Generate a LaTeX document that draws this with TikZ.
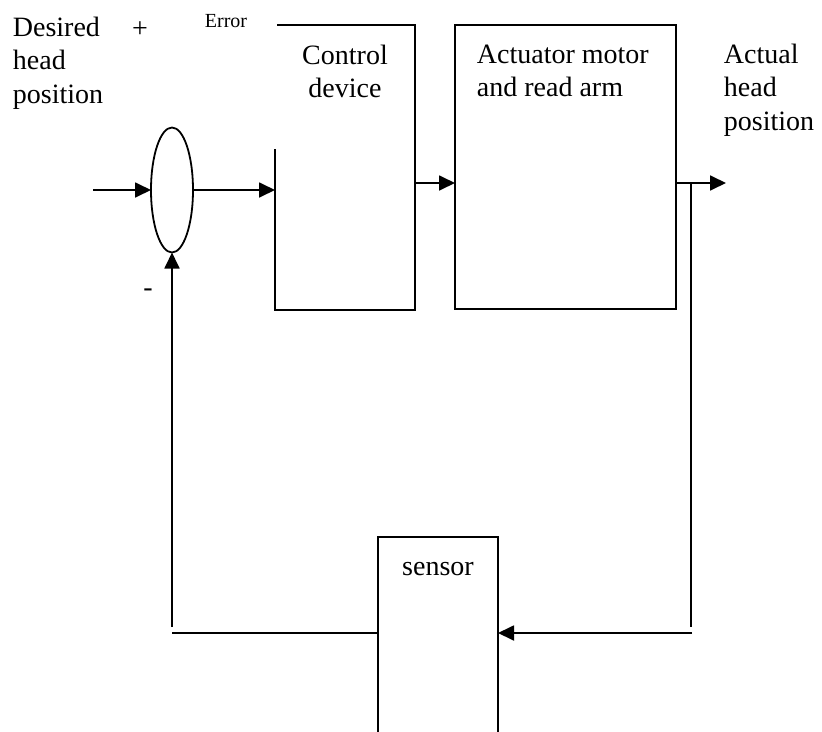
\documentclass[tikz,border=0pt]{standalone}
\usepackage{fontspec}
\setmainfont{Liberation Serif}
\usetikzlibrary{positioning, shapes.geometric, arrows.meta}

\begin{document}
\begin{tikzpicture}[x=1pt, y=-1pt, line width=1.8pt,
    box/.style={rectangle, inner sep=0pt, outer sep=0pt},
    lbl/.style={inner sep=0pt, font=\fontsize{28}{33.5}\selectfont},
    arr/.style={-{Triangle[length=16pt, width=15pt]}}]
    \useasboundingbox (0,0) rectangle (822,731);
    % summing point and blocks
    \node[ellipse, draw, inner sep=0pt, outer sep=0pt, minimum width=42pt, minimum height=125pt] (sum) at (172,190) {};
    \node[box] (ctrl) [minimum width=140pt, minimum height=285pt] at (345,167.5) {};
    \node[box, draw] (act) [minimum width=221pt, minimum height=284pt] at (565.5,167) {};
    \node[box] (sens) [minimum width=120pt, minimum height=200pt] at (438,637) {};
    \draw ([xshift=2pt]ctrl.north west) -| (ctrl.south east) -| ([yshift=18.5pt]ctrl.west);
    \draw (sens.south west) |- (sens.north east) -- (sens.south east);
    % texts
    \node[lbl, align=left, anchor=north west] (desired) at (12,16) {Desired\\head\\position};
    \node[lbl] (plus) at (140,30) {+};
    \node[lbl, anchor=base west, font=\fontsize{20}{24}\selectfont] (error) at (204,27) {Error};
    \node[lbl, align=center, below=19pt of ctrl.north] (ctrltext) {Control\\device};
    \node[lbl, align=left, below right=19pt and 21pt of act.north west] (acttext) {Actuator motor\\and read arm};
    \node[lbl, align=left, anchor=north west] (actual) at (723,43) {Actual\\head\\position};
    \node[lbl, anchor=base] (senstext) at ([yshift=-38pt]sens.north) {sensor};
    \node[lbl] (minus) at (148,293) {-};
    % connectors
    \coordinate (in) at (93,190);
    \coordinate (out) at (726,183);
    \coordinate (tap) at (691,183);
    \coordinate (fb) at (692,633);
    \draw[arr] (in) -- (sum.west);
    \draw[arr] (sum.east) -- (ctrl.west |- sum.east);
    \draw[arr] (ctrl.east |- out) -- (act.west |- out);
    \draw[arr] (act.east |- out) -- (out);
    \draw (tap) -- ([yshift=6pt]tap |- fb);
    \draw[arr] (fb) -- (sens.east |- fb);
    \draw (sens.west |- fb) -- (sum |- fb);
    \draw[arr] ([yshift=6pt]sum |- fb) -- (sum.south);
\end{tikzpicture}
\end{document}
